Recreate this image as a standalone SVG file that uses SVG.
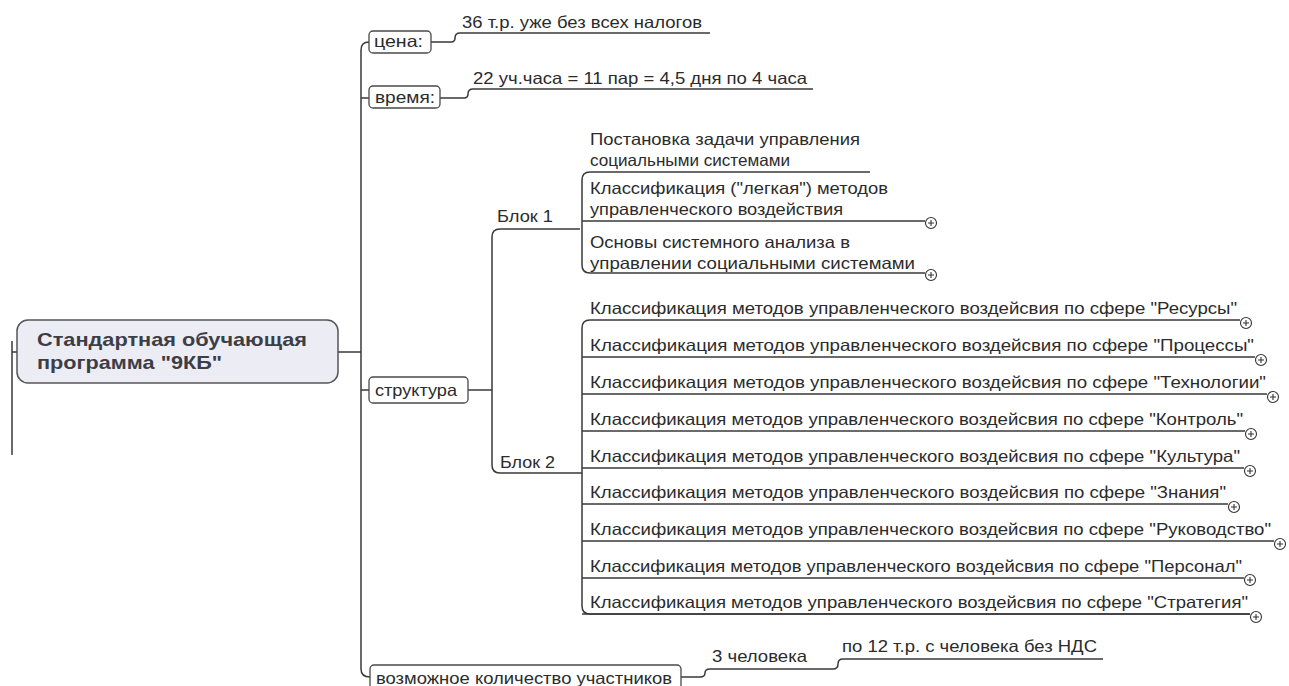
<svg xmlns="http://www.w3.org/2000/svg" width="1289" height="686" viewBox="0 0 1289 686">
<style>
.t{font-family:"Liberation Sans",Arial,sans-serif;font-size:16.5px;fill:#2b2b2b}
.rt{font-family:"Liberation Sans",Arial,sans-serif;font-size:19px;font-weight:bold;fill:#3d3d45}
.ln{fill:none;stroke:#3a3a3a;stroke-width:1.5}
.box{fill:#fff;stroke:#4a4a4a;stroke-width:1.3}
.root{fill:#ececf4;stroke:#555;stroke-width:1.5}
</style>
<defs>
<g id="plus"><circle cx="0" cy="0" r="5.5" fill="#fff" stroke="#333" stroke-width="1.1"/><path d="M-3,0H3M0,-3V3" stroke="#333" stroke-width="1.1"/></g>
</defs>
<rect width="1289" height="686" fill="#fff"/>
<g id="connectors" class="ln">
<path d="M12,341V455M12,352H17"/>
<path d="M338,352H361"/>
<path d="M369,42Q361,42 361,50V669Q361,677 370,677"/>
<path d="M361,98H369M361,390H369"/>
<path d="M431,42H451Q455,42 455,38Q455,33 460,33H710"/>
<path d="M440,98H464Q468,98 468,94Q468,89 473,89H813"/>
<path d="M468,390H492"/>
<path d="M580,229H500Q492,229 492,237V465Q492,473 500,473H582"/>
<path d="M870,172H590Q582,172 582,180V265Q582,273 590,273H925M582,221H925"/>
<path d="M1240,320H590Q582,320 582,328V606Q582,614 590,614H1250"/>
<path d="M582,357H1255M582,394H1267M582,431H1245M582,468H1244M582,504H1228M582,541H1274M582,578H1244M582,614H1250"/>
<path d="M681,677H700Q705,677 705,673Q705,669 710,669H833Q838,669 838,664Q838,659 843,659H1103"/>
</g>
<g id="root">
<rect class="root" x="17" y="320" width="321" height="63" rx="11"/>
<text class="rt" x="37" y="346" textLength="270" lengthAdjust="spacingAndGlyphs">Стандартная обучающая</text>
<text class="rt" x="37" y="369" textLength="185" lengthAdjust="spacingAndGlyphs">программа "9КБ"</text>
</g>
<g id="price">
<rect class="box" x="369" y="31" width="62" height="22" rx="4"/>
<text class="t" x="374" y="47" textLength="49" lengthAdjust="spacingAndGlyphs">цена:</text>
</g>
<g id="price-value"><text class="t" x="462" y="28" textLength="240" lengthAdjust="spacingAndGlyphs">36 т.р. уже без всех налогов</text></g>
<g id="time">
<rect class="box" x="369" y="86" width="71" height="22" rx="4"/>
<text class="t" x="375" y="103" textLength="60" lengthAdjust="spacingAndGlyphs">время:</text>
</g>
<g id="time-value"><text class="t" x="473" y="84" textLength="334" lengthAdjust="spacingAndGlyphs">22 уч.часа = 11 пар = 4,5 дня по 4 часа</text></g>
<g id="structure">
<rect class="box" x="369" y="377" width="99" height="26" rx="4"/>
<text class="t" x="375" y="396" textLength="82" lengthAdjust="spacingAndGlyphs">структура</text>
</g>
<g id="block1"><text class="t" x="497" y="222" textLength="56" lengthAdjust="spacingAndGlyphs">Блок 1</text></g>
<g id="block2"><text class="t" x="500" y="468" textLength="55" lengthAdjust="spacingAndGlyphs">Блок 2</text></g>
<g id="b1-1">
<text class="t" x="590" y="145" textLength="270" lengthAdjust="spacingAndGlyphs">Постановка задачи управления</text>
<text class="t" x="590" y="166" textLength="200" lengthAdjust="spacingAndGlyphs">социальными системами</text>
</g>
<g id="b1-2">
<text class="t" x="590" y="194" textLength="298" lengthAdjust="spacingAndGlyphs">Классификация ("легкая") методов</text>
<text class="t" x="590" y="215" textLength="253" lengthAdjust="spacingAndGlyphs">управленческого воздействия</text>
<use href="#plus" x="931" y="223"/>
</g>
<g id="b1-3">
<text class="t" x="590" y="248" textLength="260" lengthAdjust="spacingAndGlyphs">Основы системного анализа в</text>
<text class="t" x="590" y="269" textLength="325" lengthAdjust="spacingAndGlyphs">управлении социальными системами</text>
<use href="#plus" x="931" y="275"/>
</g>
<g id="b2-1"><text class="t" x="590" y="314" textLength="647" lengthAdjust="spacingAndGlyphs">Классификация методов управленческого воздейсвия по сфере "Ресурсы"</text><use href="#plus" x="1246" y="323"/></g>
<g id="b2-2"><text class="t" x="590" y="351" textLength="664" lengthAdjust="spacingAndGlyphs">Классификация методов управленческого воздейсвия по сфере "Процессы"</text><use href="#plus" x="1261" y="360"/></g>
<g id="b2-3"><text class="t" x="590" y="388" textLength="676" lengthAdjust="spacingAndGlyphs">Классификация методов управленческого воздейсвия по сфере "Технологии"</text><use href="#plus" x="1273" y="397"/></g>
<g id="b2-4"><text class="t" x="590" y="425" textLength="653" lengthAdjust="spacingAndGlyphs">Классификация методов управленческого воздейсвия по сфере "Контроль"</text><use href="#plus" x="1251" y="434"/></g>
<g id="b2-5"><text class="t" x="590" y="462" textLength="650" lengthAdjust="spacingAndGlyphs">Классификация методов управленческого воздейсвия по сфере "Культура"</text><use href="#plus" x="1250" y="471"/></g>
<g id="b2-6"><text class="t" x="590" y="498" textLength="636" lengthAdjust="spacingAndGlyphs">Классификация методов управленческого воздейсвия по сфере "Знания"</text><use href="#plus" x="1234" y="507"/></g>
<g id="b2-7"><text class="t" x="590" y="535" textLength="681" lengthAdjust="spacingAndGlyphs">Классификация методов управленческого воздейсвия по сфере "Руководство"</text><use href="#plus" x="1280" y="544"/></g>
<g id="b2-8"><text class="t" x="590" y="572" textLength="652" lengthAdjust="spacingAndGlyphs">Классификация методов управленческого воздейсвия по сфере "Персонал"</text><use href="#plus" x="1250" y="580"/></g>
<g id="b2-9"><text class="t" x="590" y="608" textLength="658" lengthAdjust="spacingAndGlyphs">Классификация методов управленческого воздейсвия по сфере "Стратегия"</text><use href="#plus" x="1256" y="617"/></g>
<g id="participants">
<rect class="box" x="370" y="665" width="311" height="30" rx="4"/>
<text class="t" x="376" y="684" textLength="296" lengthAdjust="spacingAndGlyphs">возможное количество участников</text>
</g>
<g id="three"><text class="t" x="712" y="662" textLength="95" lengthAdjust="spacingAndGlyphs">3 человека</text></g>
<g id="per-person"><text class="t" x="842" y="652" textLength="255" lengthAdjust="spacingAndGlyphs">по 12 т.р. с человека без НДС</text></g>
</svg>
